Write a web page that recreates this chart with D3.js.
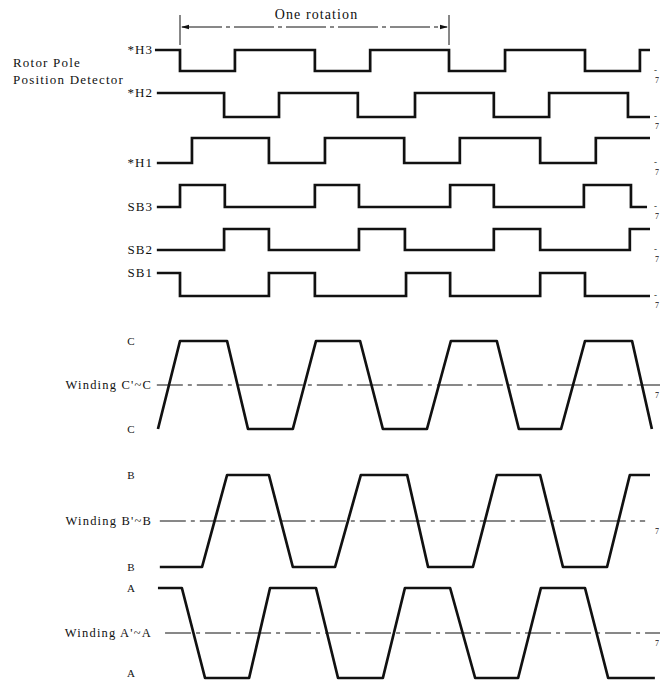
<!DOCTYPE html>
<html>
<head>
<meta charset="utf-8">
<script src="https://cdn.jsdelivr.net/npm/d3@7"></script>
<style>
  html, body { margin: 0; padding: 0; background: #fff; }
  svg { display: block; }
  text { font-family: "Liberation Serif", "DejaVu Serif", serif; fill: #111; }
</style>
</head>
<body>
<svg id="chart" width="660" height="682"></svg>
<script>
// ---------------- DATA (electrical degrees, 0° = start of "One rotation") ----------------
const rotationSpan = [0, 720];          // one mechanical rotation = 720 electrical degrees
const rotationLabel = "One rotation";
const groupLabel = ["Rotor Pole", "Position Detector"];

// Square-wave (logic) signals: name, initial level, transition angles, start/end angle
const squareNames  = ["*H3", "*H2", "*H1", "SB3", "SB2", "SB1"];
const squareStart  = [1, 1, 0, 0, 0, 1];
const h3Edges  = [0, 147, 361, 509, 720, 870, 1084, 1231];
const h2Edges  = [118, 265, 476, 629, 840, 988, 1199];
const h1Edges  = [32, 238, 388, 600, 749, 964, 1113];
const sb3Edges = [0, 120, 361, 479, 723, 840, 1081, 1207];
const sb2Edges = [118, 238, 479, 602, 840, 964, 1204];
const sb1Edges = [0, 238, 361, 605, 723, 964, 1084];
const squareEdges = [h3Edges, h2Edges, h1Edges, sb3Edges, sb2Edges, sb1Edges];
const squareFrom = [-67, -62, -62, -62, -62, -62];
const squareTo   = [1258, 1258, 1258, 1250, 1258, 1258];

// Trapezoidal winding voltages: corner angles and levels (0 = negative, 1 = positive)
const windingNames = ["Winding C'~C", "Winding B'~B", "Winding A'~A"];
const windingTop    = ["C", "B", "A"];
const windingBottom = ["C", "B", "A"];
const cDeg   = [-59, 0, 126, 182, 302, 364, 482, 543, 661, 725, 848, 907, 1020, 1084, 1210, 1263];
const cLevel = [0, 1, 1, 0, 0, 1, 1, 0, 0, 1, 1, 0, 0, 1, 1, 0];
const bDeg   = [-54, 59, 126, 238, 302, 415, 484, 608, 664, 784, 848, 964, 1025, 1143, 1204, 1258];
const bLevel = [0, 0, 1, 1, 0, 0, 1, 1, 0, 0, 1, 1, 0, 0, 1, 1];
const aDeg   = [-59, 5, 67, 185, 241, 364, 423, 543, 602, 723, 790, 905, 966, 1084, 1146, 1271];
const aLevel = [1, 1, 0, 0, 1, 1, 0, 0, 1, 1, 0, 0, 1, 1, 0, 0];
const windingDeg   = [cDeg, bDeg, aDeg];
const windingLevel = [cLevel, bLevel, aLevel];
const windingAxis  = [[-62, 1285], [-54, 1245], [-40, 1285]];

// ---------------- LAYOUT ----------------
const svg = d3.select("#chart");
const x = d3.scaleLinear().domain(rotationSpan).range([180, 449]);

// per-row vertical scales: [low pixel, high pixel]
const squareY = [[71, 50], [117, 93], [163, 138], [207, 185], [250, 229], [296, 273]]
  .map(r => d3.scaleLinear().domain([0, 1]).range(r));
const windingY = [[429, 341], [567, 475], [678, 588]]
  .map(r => d3.scaleLinear().domain([0, 1]).range(r));

const ink = "#111";
const lineGen = d3.line().x(d => x(d[0])).y(d => d[1]);

// ---------------- "One rotation" header ----------------
const hdr = svg.append("g");
[rotationSpan[0], rotationSpan[1]].forEach(d => {
  hdr.append("line").attr("x1", x(d)).attr("x2", x(d)).attr("y1", 15).attr("y2", 45)
    .attr("stroke", ink).attr("stroke-width", 1);
});
hdr.append("line")
  .attr("x1", x(rotationSpan[0]) + 2).attr("x2", x(rotationSpan[1]) - 2)
  .attr("y1", 27).attr("y2", 27)
  .attr("stroke", ink).attr("stroke-width", 1).attr("stroke-dasharray", "40,4,4,4");
const ah = 8;
hdr.append("path")
  .attr("d", `M${x(rotationSpan[0]) + 1},27 l${ah},-2.2 l0,4.4 Z`).attr("fill", ink);
hdr.append("path")
  .attr("d", `M${x(rotationSpan[1]) - 1},27 l${-ah},-2.2 l0,4.4 Z`).attr("fill", ink);
hdr.append("text").attr("x", (x(rotationSpan[0]) + x(rotationSpan[1])) / 2 + 2).attr("y", 16)
  .attr("text-anchor", "middle").attr("dominant-baseline", "middle")
  .attr("font-size", 14).attr("letter-spacing", 1.1).text(rotationLabel);

// group label
svg.append("text").attr("x", 13).attr("y", 64).attr("dominant-baseline", "middle")
  .attr("font-size", 13).attr("letter-spacing", 1.2).text(groupLabel[0]);
svg.append("text").attr("x", 13).attr("y", 81).attr("dominant-baseline", "middle")
  .attr("font-size", 13).attr("letter-spacing", 1.2).text(groupLabel[1]);

// ---------------- Square waves ----------------
squareNames.forEach((name, i) => {
  const y = squareY[i];
  let lvl = squareStart[i];
  const pts = [[squareFrom[i], y(lvl)]];
  squareEdges[i].forEach(e => {
    pts.push([e, y(lvl)]);
    lvl = 1 - lvl;
    pts.push([e, y(lvl)]);
  });
  pts.push([squareTo[i], y(lvl)]);
  svg.append("path").attr("d", lineGen(pts))
    .attr("fill", "none").attr("stroke", ink).attr("stroke-width", 2.7)
    .attr("stroke-linejoin", "miter");
  svg.append("text").attr("x", 153).attr("y", y(squareStart[i]) + 1)
    .attr("text-anchor", "end").attr("dominant-baseline", "middle")
    .attr("font-size", 13).attr("letter-spacing", 1).text(name);
  svg.append("text").attr("x", 654).attr("y", y(0)).attr("dominant-baseline", "middle")
    .attr("font-size", 9).attr("fill", "#333").text("-");
  svg.append("text").attr("x", 655).attr("y", y(0) + 10).attr("dominant-baseline", "middle")
    .attr("font-size", 8).attr("fill", "#333").text("7");
});

// ---------------- Trapezoidal windings ----------------
windingNames.forEach((name, i) => {
  const y = windingY[i];
  const mid = (y(0) + y(1)) / 2;
  svg.append("line")
    .attr("x1", x(windingAxis[i][0])).attr("x2", x(windingAxis[i][1]))
    .attr("y1", mid).attr("y2", mid)
    .attr("stroke", ink).attr("stroke-width", 1)
    .attr("stroke-dasharray", "26,5,4,5");
  const pts = windingDeg[i].map((d, k) => [d, y(windingLevel[i][k])]);
  svg.append("path").attr("d", lineGen(pts))
    .attr("fill", "none").attr("stroke", ink).attr("stroke-width", 2.7)
    .attr("stroke-linejoin", "round");
  svg.append("text").attr("x", 152).attr("y", mid + 1)
    .attr("text-anchor", "end").attr("dominant-baseline", "middle")
    .attr("font-size", 12.5).attr("letter-spacing", 1.2).text(name);
  svg.append("text").attr("x", 131).attr("y", y(1) + 1)
    .attr("text-anchor", "middle").attr("dominant-baseline", "middle")
    .attr("font-size", 11).text(windingTop[i]);
  svg.append("text").attr("x", 131).attr("y", Math.min(y(0) + 1, 674))
    .attr("text-anchor", "middle").attr("dominant-baseline", "middle")
    .attr("font-size", 11).text(windingBottom[i]);
  svg.append("text").attr("x", 655).attr("y", mid + 11).attr("dominant-baseline", "middle")
    .attr("font-size", 8).attr("fill", "#333").text("7");
});
</script>
</body>
</html>
